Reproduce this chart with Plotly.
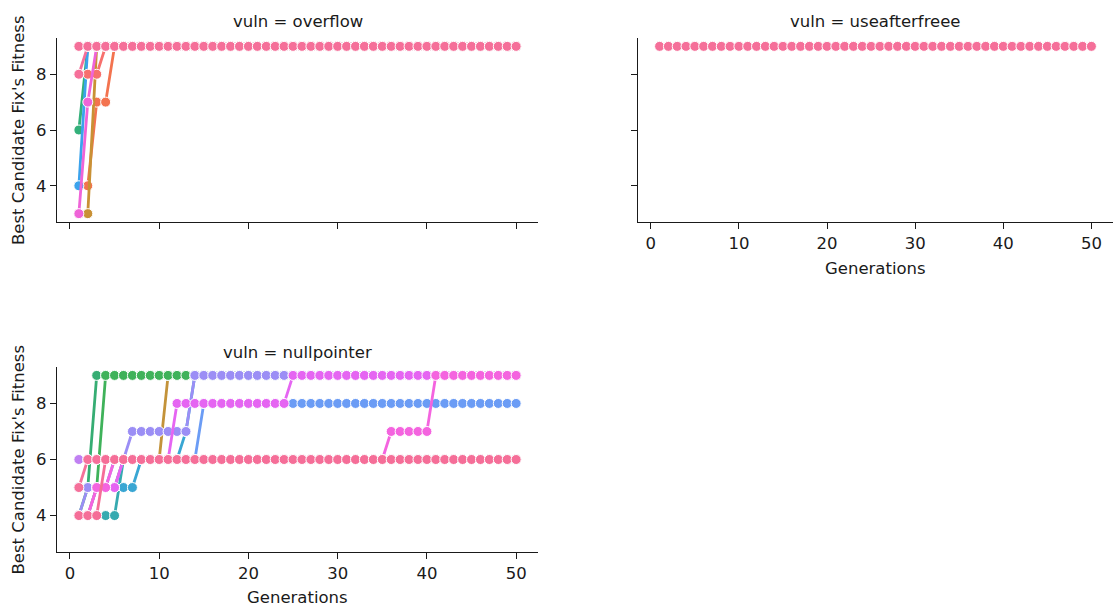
import plotly.graph_objects as go

# ---------------- data ----------------
generations = list(range(1, 51))

panels = ["overflow", "useafterfreee", "nullpointer"]

# overflow runs (draw order)
ov_salmon = [4, 4, 7, 7, 9, 9, 9, 9, 9, 9,
             9, 9, 9, 9, 9, 9, 9, 9, 9, 9,
             9, 9, 9, 9, 9, 9, 9, 9, 9, 9,
             9, 9, 9, 9, 9, 9, 9, 9, 9, 9,
             9, 9, 9, 9, 9, 9, 9, 9, 9, 9]
ov_brown = [3, 3, 9, 9, 9, 9, 9, 9, 9, 9,
            9, 9, 9, 9, 9, 9, 9, 9, 9, 9,
            9, 9, 9, 9, 9, 9, 9, 9, 9, 9,
            9, 9, 9, 9, 9, 9, 9, 9, 9, 9,
            9, 9, 9, 9, 9, 9, 9, 9, 9, 9]
ov_green = [6, 9, 9, 9, 9, 9, 9, 9, 9, 9,
            9, 9, 9, 9, 9, 9, 9, 9, 9, 9,
            9, 9, 9, 9, 9, 9, 9, 9, 9, 9,
            9, 9, 9, 9, 9, 9, 9, 9, 9, 9,
            9, 9, 9, 9, 9, 9, 9, 9, 9, 9]
ov_blue = [4, 9, 9, 9, 9, 9, 9, 9, 9, 9,
           9, 9, 9, 9, 9, 9, 9, 9, 9, 9,
           9, 9, 9, 9, 9, 9, 9, 9, 9, 9,
           9, 9, 9, 9, 9, 9, 9, 9, 9, 9,
           9, 9, 9, 9, 9, 9, 9, 9, 9, 9]
ov_coral = [8, 8, 8, 9, 9, 9, 9, 9, 9, 9,
            9, 9, 9, 9, 9, 9, 9, 9, 9, 9,
            9, 9, 9, 9, 9, 9, 9, 9, 9, 9,
            9, 9, 9, 9, 9, 9, 9, 9, 9, 9,
            9, 9, 9, 9, 9, 9, 9, 9, 9, 9]
ov_magenta = [3, 7, 9, 9, 9, 9, 9, 9, 9, 9,
              9, 9, 9, 9, 9, 9, 9, 9, 9, 9,
              9, 9, 9, 9, 9, 9, 9, 9, 9, 9,
              9, 9, 9, 9, 9, 9, 9, 9, 9, 9,
              9, 9, 9, 9, 9, 9, 9, 9, 9, 9]
ov_pink_a = [8, 9, 9, 9, 9, 9, 9, 9, 9, 9,
             9, 9, 9, 9, 9, 9, 9, 9, 9, 9,
             9, 9, 9, 9, 9, 9, 9, 9, 9, 9,
             9, 9, 9, 9, 9, 9, 9, 9, 9, 9,
             9, 9, 9, 9, 9, 9, 9, 9, 9, 9]
ov_pink_b = [9, 9, 9, 9, 9, 9, 9, 9, 9, 9,
             9, 9, 9, 9, 9, 9, 9, 9, 9, 9,
             9, 9, 9, 9, 9, 9, 9, 9, 9, 9,
             9, 9, 9, 9, 9, 9, 9, 9, 9, 9,
             9, 9, 9, 9, 9, 9, 9, 9, 9, 9]

# useafterfreee run
uaf_pink = [9, 9, 9, 9, 9, 9, 9, 9, 9, 9,
            9, 9, 9, 9, 9, 9, 9, 9, 9, 9,
            9, 9, 9, 9, 9, 9, 9, 9, 9, 9,
            9, 9, 9, 9, 9, 9, 9, 9, 9, 9,
            9, 9, 9, 9, 9, 9, 9, 9, 9, 9]

# nullpointer runs (draw order)
np_gold = [5, 5, 5, 5, 5, 6, 6, 6, 6, 6,
           9, 9, 9, 9, 9, 9, 9, 9, 9, 9,
           9, 9, 9, 9, 9, 9, 9, 9, 9, 9,
           9, 9, 9, 9, 9, 9, 9, 9, 9, 9,
           9, 9, 9, 9, 9, 9, 9, 9, 9, 9]
np_green_a = [4, 5, 9, 9, 9, 9, 9, 9, 9, 9,
              9, 9, 9, 9, 9, 9, 9, 9, 9, 9,
              9, 9, 9, 9, 9, 9, 9, 9, 9, 9,
              9, 9, 9, 9, 9, 9, 9, 9, 9, 9,
              9, 9, 9, 9, 9, 9, 9, 9, 9, 9]
np_green_b = [4, 4, 5, 9, 9, 9, 9, 9, 9, 9,
              9, 9, 9, 9, 9, 9, 9, 9, 9, 9,
              9, 9, 9, 9, 9, 9, 9, 9, 9, 9,
              9, 9, 9, 9, 9, 9, 9, 9, 9, 9,
              9, 9, 9, 9, 9, 9, 9, 9, 9, 9]
np_violet = [6, 6, 6, 6, 6, 6, 6, 6, 6, 6,
             6, 6, 6, 6, 6, 6, 6, 6, 6, 6,
             6, 6, 6, 6, 6, 6, 6, 6, 6, 6,
             6, 6, 6, 6, 6, 6, 6, 6, 6, 6,
             6, 6, 6, 6, 6, 6, 6, 6, 6, 6]
np_teal = [4, 4, 4, 4, 4, 6, 6, 6, 6, 6,
           6, 6, 6, 6, 6, 6, 6, 6, 6, 6,
           6, 6, 6, 6, 6, 6, 6, 6, 6, 6,
           6, 6, 6, 6, 6, 6, 6, 6, 6, 6,
           6, 6, 6, 6, 6, 6, 6, 6, 6, 6]
np_sky = [5, 5, 5, 5, 5, 5, 5, 6, 6, 6,
          6, 6, 7, 9, 9, 9, 9, 9, 9, 9,
          9, 9, 9, 9, 9, 9, 9, 9, 9, 9,
          9, 9, 9, 9, 9, 9, 9, 9, 9, 9,
          9, 9, 9, 9, 9, 9, 9, 9, 9, 9]
np_lightblue = [5, 5, 5, 5, 6, 6, 6, 6, 6, 6,
                6, 6, 6, 6, 8, 8, 8, 8, 8, 8,
                8, 8, 8, 8, 8, 8, 8, 8, 8, 8,
                8, 8, 8, 8, 8, 8, 8, 8, 8, 8,
                8, 8, 8, 8, 8, 8, 8, 8, 8, 8]
np_lavender = [4, 5, 5, 5, 5, 6, 7, 7, 7, 7,
               7, 7, 7, 9, 9, 9, 9, 9, 9, 9,
               9, 9, 9, 9, 9, 9, 9, 9, 9, 9,
               9, 9, 9, 9, 9, 9, 9, 9, 9, 9,
               9, 9, 9, 9, 9, 9, 9, 9, 9, 9]
np_magenta_a = [4, 4, 5, 5, 5, 6, 6, 6, 6, 6,
                6, 8, 8, 8, 8, 8, 8, 8, 8, 8,
                8, 8, 8, 8, 9, 9, 9, 9, 9, 9,
                9, 9, 9, 9, 9, 9, 9, 9, 9, 9,
                9, 9, 9, 9, 9, 9, 9, 9, 9, 9]
np_magenta_b = [4, 4, 5, 5, 6, 6, 6, 6, 6, 6,
                6, 6, 6, 6, 6, 6, 6, 6, 6, 6,
                6, 6, 6, 6, 6, 6, 6, 6, 6, 6,
                6, 6, 6, 6, 6, 7, 7, 7, 7, 7,
                9, 9, 9, 9, 9, 9, 9, 9, 9, 9]
np_pink_a = [5, 6, 6, 6, 6, 6, 6, 6, 6, 6,
             6, 6, 6, 6, 6, 6, 6, 6, 6, 6,
             6, 6, 6, 6, 6, 6, 6, 6, 6, 6,
             6, 6, 6, 6, 6, 6, 6, 6, 6, 6,
             6, 6, 6, 6, 6, 6, 6, 6, 6, 6]
np_pink_b = [4, 4, 4, 6, 6, 6, 6, 6, 6, 6,
             6, 6, 6, 6, 6, 6, 6, 6, 6, 6,
             6, 6, 6, 6, 6, 6, 6, 6, 6, 6,
             6, 6, 6, 6, 6, 6, 6, 6, 6, 6,
             6, 6, 6, 6, 6, 6, 6, 6, 6, 6]

overflow_runs = [ov_salmon, ov_brown, ov_green, ov_blue, ov_coral, ov_magenta, ov_pink_a, ov_pink_b]
overflow_colors = ["#f3734f", "#c99135", "#33b07a", "#3ba3ec", "#f7706d", "#ef64d8", "#f6709a", "#f56f99"]

uaf_runs = [uaf_pink]
uaf_colors = ["#f56f99"]

nullpointer_runs = [np_gold, np_green_a, np_green_b, np_violet, np_teal, np_sky, np_lightblue,
                    np_lavender, np_magenta_a, np_magenta_b, np_pink_a, np_pink_b]
nullpointer_colors = ["#c3933a", "#36ad73", "#3fb25a", "#c080f2", "#36aab0", "#39a6d3", "#6b9cf5",
                      "#9b8ef5", "#e565f2", "#f464df", "#f5709a", "#f56e98"]

x_ticks = [0, 10, 20, 30, 40, 50]
y_ticks = [4, 6, 8]

# ---------------- figure ----------------
W, H = 1115, 610
fig = go.Figure()

axes_ids = [("x", "y"), ("x2", "y2"), ("x3", "y3")]
panel_runs = [overflow_runs, uaf_runs, nullpointer_runs]
panel_colors = [overflow_colors, uaf_colors, nullpointer_colors]

for (xa, ya), runs, cols in zip(axes_ids, panel_runs, panel_colors):
    for vals, c in zip(runs, cols):
        fig.add_trace(go.Scatter(
            x=generations, y=vals, xaxis=xa, yaxis=ya,
            mode="lines+markers",
            line=dict(color=c, width=2.8),
            marker=dict(color=c, size=10, line=dict(color="white", width=1)),
            showlegend=False, hoverinfo="skip",
        ))

def px_x(p):
    return p / W

def px_y(p):
    return 1 - p / H

ink = "#1a1a1a"
font_fam = "DejaVu Sans"

def xaxis(domain, anchor, labels):
    return dict(domain=domain, anchor=anchor, range=[-1.45, 52.45],
                tickmode="array", tickvals=x_ticks, ticks="outside", ticklen=6,
                tickwidth=1.3, tickcolor=ink, showline=True, linecolor=ink,
                linewidth=1.3, showgrid=False, zeroline=False,
                showticklabels=labels, tickfont=dict(size=16.5, color=ink, family=font_fam))

def yaxis(domain, anchor, labels):
    return dict(domain=domain, anchor=anchor, range=[2.7, 9.3],
                tickmode="array", tickvals=y_ticks, ticks="outside", ticklen=6,
                tickwidth=1.3, tickcolor=ink, showline=True, linecolor=ink,
                linewidth=1.3, showgrid=False, zeroline=False,
                showticklabels=labels, tickfont=dict(size=16.5, color=ink, family=font_fam))

left_dom = [px_x(57), px_x(538)]
right_dom = [px_x(638), px_x(1113)]
top_dom = [px_y(222), px_y(38)]
bot_dom = [px_y(552), px_y(367)]

annotations = []
def ann(text, x, y, angle=0):
    annotations.append(dict(text=text, x=x, y=y, xref="paper", yref="paper",
                            xanchor="center", yanchor="middle", showarrow=False,
                            textangle=angle, font=dict(size=16.5, color=ink, family=font_fam)))

titles = ["vuln = " + p for p in panels]
ann(titles[0], px_x((57 + 538) / 2), px_y(21))
ann(titles[1], px_x((638 + 1113) / 2), px_y(21))
ann(titles[2], px_x((57 + 538) / 2), px_y(352))
ann("Generations", px_x((638 + 1113) / 2), px_y(268))
ann("Generations", px_x((57 + 538) / 2), px_y(597))
ann("Best Candidate Fix's Fitness", px_x(18), px_y(130), -90)
ann("Best Candidate Fix's Fitness", px_x(18), px_y(459.5), -90)

fig.update_layout(
    width=W, height=H,
    margin=dict(l=0, r=0, t=0, b=0),
    paper_bgcolor="white", plot_bgcolor="white",
    xaxis=xaxis(left_dom, "y", False),
    yaxis=yaxis(top_dom, "x", True),
    xaxis2=xaxis(right_dom, "y2", True),
    yaxis2=yaxis(top_dom, "x2", False),
    xaxis3=xaxis(left_dom, "y3", True),
    yaxis3=yaxis(bot_dom, "x3", True),
    annotations=annotations,
    font=dict(family=font_fam, color=ink),
)

fig.write_html("out.html")
